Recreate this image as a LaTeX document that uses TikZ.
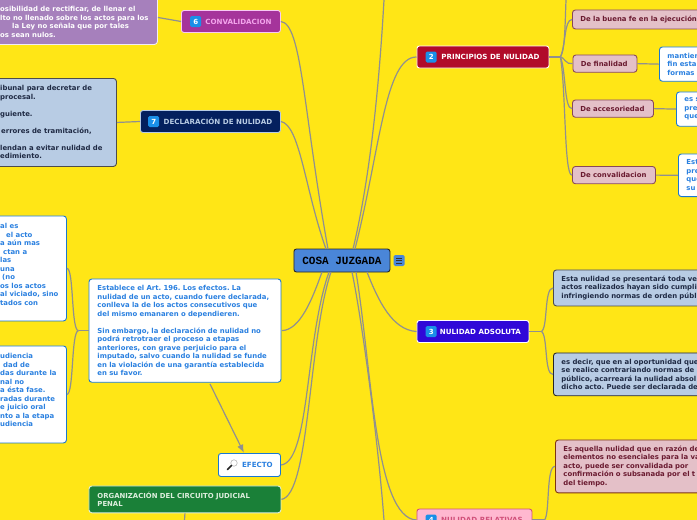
\documentclass[tikz,border=0pt]{standalone}
\usepackage{fontspec}
\setmainfont{DejaVu Sans}
\newfontfamily\monofont{Liberation Mono}
\usetikzlibrary{arrows.meta, positioning}
\definecolor{paper}{HTML}{FFE616}
\definecolor{wire}{HTML}{909090}
\definecolor{rootblue}{HTML}{4A86D8}
\definecolor{iceblue}{HTML}{B8CCE4}
\definecolor{inkblue}{HTML}{1F2A44}
\definecolor{skyink}{HTML}{2A80E0}
\definecolor{skyline}{HTML}{1A78D0}
\definecolor{rose}{HTML}{E4C0C8}
\definecolor{roseink}{HTML}{6A1A30}
\definecolor{lilac}{HTML}{A680BC}
\definecolor{badgeblue}{HTML}{1A8FE8}
\definecolor{convfill}{HTML}{A5349B}
\definecolor{convtext}{HTML}{F3A6EC}
\definecolor{declfill}{HTML}{04205E}
\definecolor{prinfill}{HTML}{B10B2A}
\definecolor{adsofill}{HTML}{3008D8}
\definecolor{relafill}{HTML}{FFB8D0}
\definecolor{relaline}{HTML}{D0507A}
\definecolor{greenfill}{HTML}{1A8038}
\definecolor{greentext}{HTML}{DDEEDD}
\begin{document}
\frenchspacing
\begin{tikzpicture}[
    x=1pt, y=-1pt,
    >=Latex,
    note/.style={
        rectangle,
        rounded corners=3pt,
        line width=0.9pt,
        inner sep=0pt,
        anchor=north west,
        align=left,
        font=\fontsize{6.9}{8.5}\selectfont\bfseries
    },
    whitebox/.style={note, draw=skyline, fill=white, text=skyink},
    icebox/.style={note, draw=black!70, fill=iceblue, text=inkblue},
    rosebox/.style={note, draw=roseink!80, fill=rose, text=roseink},
    lilacbox/.style={note, draw=white!85!lilac, fill=lilac, text=white},
    plaintext/.style={inner sep=0pt, anchor=north west, align=left,
        font=\fontsize{6.9}{8.5}\selectfont\bfseries},
    head/.style={
        rectangle,
        rounded corners=2.5pt,
        line width=0.9pt,
        minimum height=22pt,
        inner sep=0pt,
        anchor=west,
        font=\fontsize{7.1}{8}\selectfont\bfseries
    },
    badge/.style={
        rectangle,
        rounded corners=1.5pt,
        fill=badgeblue,
        text=white,
        minimum size=11pt,
        inner sep=0pt,
        font=\fontsize{7}{8}\selectfont\bfseries
    },
    link/.style={wire, line width=1.2pt}
]

\useasboundingbox (0,0) rectangle (697,520);
\clip (0,0) rectangle (697,520);
\fill[paper] (0,0) rectangle (697,520);

% centre
\node[head, draw=black!85, fill=rootblue, minimum width=96pt, minimum height=23pt,
    font=\monofont\fontsize{11}{12}\selectfont\bfseries] (root) at (293.5,260.5) {COSA JUZGADA};
\node[badge, fill=rootblue, right=3pt of root] (menu) {};
\foreach \dy in {-2.5,0,2.5}
    \draw[black!80, line width=0.6pt] ([xshift=-3pt,yshift=\dy pt]menu.center) -- ([xshift=3pt,yshift=\dy pt]menu.center);

% left side
\node[lilacbox, minimum width=167pt, minimum height=54pt] (lilac) at (-10,-10) {};
\node[plaintext, text=white] (lilactext) at (0,6.5) {osibilidad de rectificar, de llenar el\\
lto no llenado sobre los actos para los\\
\leavevmode\kern12pt la Ley no señala que por tales\\
os sean nulos.};
\node[head, draw=convtext!60!white, fill=convfill, text=convtext, minimum width=99pt] (conv) at (181,21.5) {\hspace*{15pt}CONVALIDACION};
\node[badge, right=9pt of conv.west] (conv6) {6};

\node[icebox, minimum width=126pt, minimum height=88pt] (ice) at (-10,78) {};
\node[plaintext, text=inkblue] (icetext) at (0,85.5) {ibunal para decretar de\\
procesal.\\[8.5pt]
guiente.\\[8.5pt]
\leavevmode\kern1pt errores de tramitación,\\[8.5pt]
lendan a evitar nulidad de\\
edimiento.};
\node[head, draw=iceblue, fill=declfill, text=iceblue, minimum width=140pt] (decl) at (140,121.5) {\hspace*{15pt}DECLARACIÓN DE NULIDAD};
\node[badge, right=8pt of decl.west] (decl7) {7};

\node[whitebox, minimum width=76pt, minimum height=105pt] (topw) at (-10,215.5) {};
\node[plaintext, text=skyink] (topwtext) at (0,223.5) {al es\\
\leavevmode\kern6pt el acto\\
a aún mas\\
\leavevmode\kern3pt ctan a\\
las\\
una\\
\leavevmode\kern2pt (no\\
os los actos\\
al viciado, sino\\
tados con};
\node[whitebox, minimum width=76pt, minimum height=97pt] (lowb) at (-10,345.5) {};
\node[plaintext, text=skyink] (lowbtext) at (0,353.5) {udiencia\\
\leavevmode\kern3pt dad de\\
das durante la\\
nal no\\
a ésta fase.\\
radas durante\\
e juicio oral\\
nto a la etapa\\
udiencia};

\node[whitebox, text width=175pt, inner xsep=8.5pt, inner ysep=6.5pt] (big) at (88.5,278.5) {Establece el Art. 196. Los efectos. La\\
nulidad de un acto, cuando fuere declarada,\\
conlleva la de los actos consecutivos que\\
del mismo emanaren o dependieren.\\[8.5pt]
Sin embargo, la declaración de nulidad no\\
podrá retrotraer el proceso a etapas\\
anteriores, con grave perjuicio para el\\
imputado, salvo cuando la nulidad se funde\\
en la violación de una garantía establecida\\
en su favor.};
\node[head, draw=skyline, fill=white, text=skyink, minimum width=62pt, minimum height=23pt] (efecto) at (218,465) {\hspace*{16pt}EFECTO};
\node[circle, draw=black!40, fill=white, minimum size=6.5pt, inner sep=0pt] (lens) at (234,463) {};
\draw[black!85, line width=1.6pt, line cap=round] (lens.225) -- ++(-4,4);

\node[note, draw=greentext, fill=greenfill, text=greentext, text width=175pt,
    inner xsep=8.5pt, inner ysep=6pt] (green) at (88.5,485.5) {ORGANIZACIÓN DEL CIRCUITO JUDICIAL\\
PENAL};
\coordinate (greenout) at (184.5,520);

% right side
\node[head, draw=white, fill=prinfill, text=white, minimum width=132pt] (prin) at (416.5,57) {\hspace*{15pt}PRINCIPIOS DE NULIDAD};
\node[badge, right=9pt of prin.west] (prin2) {2};
\node[head, draw=white, fill=adsofill, text=white, minimum width=112pt] (adso) at (416.5,331.5) {\hspace*{15pt}NULIDAD ADSOLUTA};
\node[badge, right=9pt of adso.west] (adso3) {3};
\node[head, draw=relaline, fill=relafill, text=relaline, minimum width=115pt] (rela) at (416.5,520) {\hspace*{15pt}NULIDAD RELATIVAS};
\node[badge, right=9pt of rela.west] (rela4) {4};

\node[rosebox, text width=180pt, inner xsep=8pt, inner ysep=6pt] (buena) at (572,9.5) {De la buena fe en la ejecución};
\node[rosebox, text width=48pt, inner xsep=8pt, inner ysep=6pt] (fina) at (572.5,54.5) {De finalidad};
\node[rosebox, text width=65pt, inner xsep=8pt, inner ysep=6pt] (acce) at (572,99.5) {De accesoriedad};
\node[rosebox, text width=67pt, inner xsep=8pt, inner ysep=6pt] (conva) at (572,166) {De convalidacion};

\node[whitebox, text width=80pt, inner xsep=8pt, inner ysep=6pt] (fintxt) at (659,46.5) {mantien\\fin esta\\formas};
\node[whitebox, text width=80pt, inner xsep=8pt, inner ysep=6pt] (acctxt) at (676,91.5) {es s\\pre\\que};
\node[whitebox, text width=80pt, inner xsep=8pt, inner ysep=6pt] (contxt) at (678,153.5) {Est\\pre\\que\\su};

\node[icebox, text width=200pt, inner xsep=8pt, inner ysep=6pt] (icea) at (553,269.5) {Esta nulidad se presentará toda ve\\
actos realizados hayan sido cumpli\\
infringiendo normas de orden públi};
\node[icebox, draw=black!85, text width=200pt, inner xsep=8pt, inner ysep=6pt] (iceb) at (553,352.5) {es decir, que en al oportunidad que\\
se realice contrariando normas de\\
público, acarreará la nulidad absol\\
dicho acto. Puede ser declarada de};
\node[rosebox, draw=roseink!50!orange!70!black, text width=200pt, inner xsep=8pt, inner ysep=6pt] (rosa) at (555,439.5) {Es aquella nulidad que en razón de\\
elementos no esenciales para la va\\
acto, puede ser convalidada por\\
confirmación o subsanada por el t\\
del tiempo.};

% free ends
\coordinate (topout) at (384,0);
\coordinate (forkout) at (566,0);
\coordinate (rootnw) at (328,249);
\coordinate (rootnwb) at (326,249);
\coordinate (rootne) at (353,249);
\coordinate (rootneb) at (355,249);
\coordinate (rootsw) at (322,272);
\coordinate (rootswb) at (329,272);
\coordinate (rootswc) at (331,272);
\coordinate (rootse) at (352,272);
\coordinate (rootseb) at (356,272);
\coordinate (rootsec) at (367,272);
\coordinate (botout) at (384,520);
\coordinate (bigfoot) at (210,384);
\coordinate (efetip) at (244,453);

% centre to branches
\draw[link] (conv.east) .. controls (302,24) and (303,110) .. (rootnw);
\draw[link] (decl.east) .. controls (300,125) and (305,190) .. (rootnwb);
\draw[link] (topout) .. controls (380,70) and (372,170) .. (rootne);
\draw[link] (prin.west) .. controls (385,57) and (380,150) .. (rootneb);
\draw[link] (big.east) ++(0.5,0) .. controls (300,330) and (312,300) .. (rootsw);
\draw[link] (efecto.east) .. controls (310,462) and (305,340) .. (rootswb);
\draw[link] (green.east) .. controls (310,495) and (308,340) .. (rootswc);
\draw[link] (rootse) .. controls (362,320) and (378,440) .. (botout);
\draw[link] (rootseb) .. controls (372,370) and (375,518) .. (rela.west);
\draw[link] (rootsec) .. controls (378,300) and (392,330) .. (adso.west);

% left details
\draw[link] (lilac.east) -- (conv.west);
\draw[link] (ice.east) -- (decl.west);
\draw[link] (big.west) -- ++(-10,0) coordinate (bigfork);
\draw[link] (bigfork) .. controls (71,331) and (74,268) .. (topw.east);
\draw[link] (bigfork) .. controls (71,331) and (74,394) .. (lowb.east);
\draw[->, link] (bigfoot) -- (efetip);
\draw[link] (green.south) -- (greenout);

% right details
\draw[link] (prin.east) -- ++(11,0) coordinate (prinfork);
\draw[link] (prinfork) .. controls (565,50) and (565,25) .. (forkout);
\draw[link] (prinfork) .. controls (566,45) and (564,20) .. (buena.west);
\draw[link] (prinfork) .. controls (564,57) and (566,65) .. (fina.west);
\draw[link] (prinfork) .. controls (566,70) and (564,109) .. (acce.west);
\draw[link] (prinfork) .. controls (566,90) and (564,176) .. (conva.west);
\draw[link] (fina.east) -- (fintxt.west);
\draw[link] (acce.east) -- (acctxt.west);
\draw[link] (conva.east) -- (contxt.west);
\draw[link] (adso.east) -- ++(12,0) coordinate (adsofork);
\draw[link] (adsofork) .. controls (548,328) and (544,288) .. (icea.west);
\draw[link] (adsofork) .. controls (548,335) and (544,375) .. (iceb.west);
\draw[link] (rela.east) -- ++(12,0) coordinate (relafork);
\draw[link] (relafork) .. controls (550,515) and (546,466) .. (rosa.west);

\end{tikzpicture}
\end{document}
